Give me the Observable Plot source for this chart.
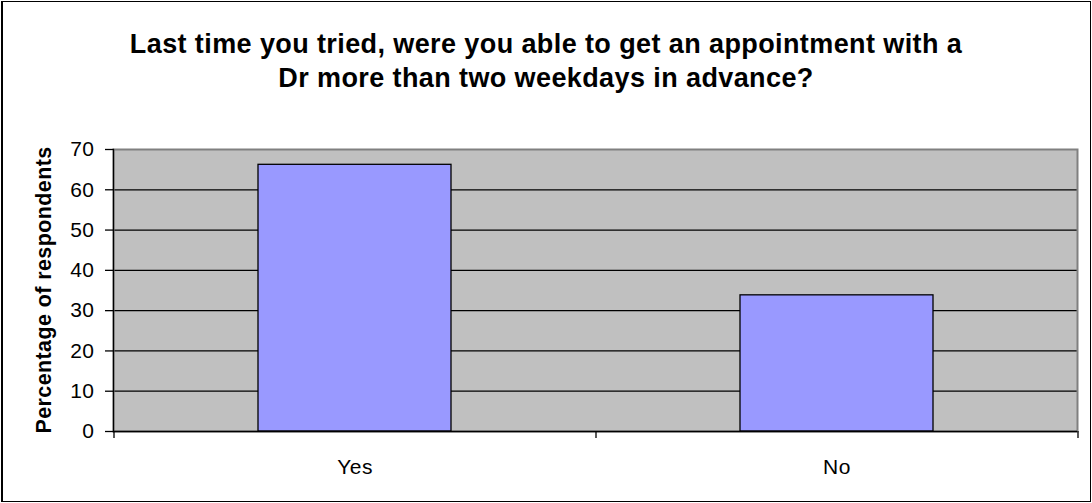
<!DOCTYPE html>
<html>
<head>
<meta charset="utf-8">
<script src="https://cdn.jsdelivr.net/npm/d3@7"></script>
<script src="https://cdn.jsdelivr.net/npm/@observablehq/plot@0.6"></script>
<style>
  html, body { margin: 0; padding: 0; background: #fff; }
  #wrap { position: relative; width: 1092px; height: 503px; overflow: hidden;
          font-family: Arial, "Liberation Sans", sans-serif; }
  #border { position: absolute; left: 1px; top: 1px; width: 1090px; height: 501px;
            box-sizing: border-box; border: 1px solid #000; border-left-width: 2px; pointer-events: none; }
  #title { position: absolute; left: 0; top: 27px; width: 1092px; text-align: center;
           font-weight: bold; font-size: 27px; line-height: 34px; letter-spacing: 0.4px; color: #000; }
  #chart { position: absolute; left: 0; top: 0; }
  #ylabel { position: absolute; left: 44px; top: 290px; transform: translate(-50%, -50%) rotate(-90deg);
            white-space: nowrap; font-weight: bold; font-size: 21.5px; letter-spacing: 0.4px; color: #000; }
</style>
</head>
<body>
<div id="wrap">
  <div id="chart"></div>
  <div id="title"></div>
  <div id="ylabel"></div>
  <div id="border"></div>
</div>
<script>
const titleLines = ["Last time you tried, were you able to get an appointment with a",
                    "Dr more than two weekdays in advance?"];
const yLabel = "Percentage of respondents";
const categories = ["Yes", "No"];
const values = [66.2, 33.8];
const yTicks = [0, 10, 20, 30, 40, 50, 60, 70];

document.getElementById("title").innerHTML = titleLines.map(t => `<div>${t}</div>`).join("");
document.getElementById("ylabel").textContent = yLabel;

const data = categories.map((c, i) => ({category: c, value: values[i]}));

const W = 1092, H = 503, mL = 113, mR = 15, mT = 149, mB = 72;
const halfStep = (W - mL - mR) / categories.length / 2;

const chart = Plot.plot({
  width: W, height: H,
  marginLeft: mL, marginRight: mR, marginTop: mT, marginBottom: mB,
  style: { fontFamily: "Arial, 'Liberation Sans', sans-serif", fontSize: "21px", letterSpacing: "0.5px",
           color: "#000", background: "transparent", overflow: "visible" },
  x: { domain: categories, paddingInner: 0.6, paddingOuter: 0.3, label: null, axis: null },
  y: { domain: [0, 70], label: null, axis: null },
  marks: [
    Plot.frame({ fill: "#c0c0c0", stroke: "none" }),
    Plot.ruleY(yTicks.slice(1, -1), { stroke: "#000", strokeWidth: 1.3 }),
    Plot.frame({ stroke: "#808080", strokeWidth: 2 }),
    Plot.barY(data, { x: "category", y: "value", fill: "#9999ff", stroke: "#000", strokeWidth: 1.3 }),
    Plot.frame({ anchor: "left", stroke: "#000", strokeWidth: 1.3 }),
    Plot.ruleY([0], { stroke: "#000", strokeWidth: 1.5 }),
    Plot.axisY({ ticks: yTicks, tickSize: 8, tickPadding: 11, label: null, tickFormat: d => String(d), stroke: "#000", strokeWidth: 1.3 }),
    Plot.axisX({ tickSize: 0, tickPadding: 28, label: null }),
    Plot.ruleX(categories, { x: d => d, y: 0, dx: -halfStep, insetBottom: -7, stroke: "#000", strokeWidth: 1.3 }),
    Plot.ruleX(categories.slice(-1), { x: d => d, y: 0, dx: halfStep, insetBottom: -7, stroke: "#000", strokeWidth: 1.3 })
  ]
});
document.getElementById("chart").appendChild(chart);
</script>
</body>
</html>
